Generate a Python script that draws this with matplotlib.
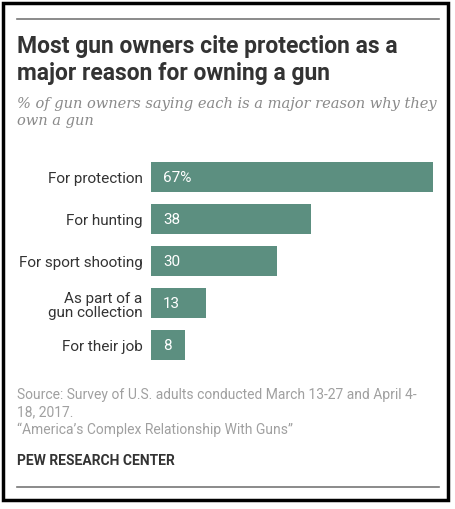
import matplotlib
matplotlib.use("Agg")
import matplotlib.pyplot as plt
from matplotlib.lines import Line2D
from matplotlib.patches import Rectangle

# 数据
categories = ["For protection", "For hunting", "For sport shooting",
              "As part of a\ngun collection", "For their job"]
values = [67, 38, 30, 13, 8]
value_labels = ["67%", "38", "30", "13", "8"]

W, H = 455, 510
BAR_COLOR = "#5c8f80"

plt.rcParams["font.family"] = ["Roboto", "DejaVu Sans"]

fig = plt.figure(figsize=(W / 100, H / 100), dpi=100)


def fx(px):
    return px / W


def fy(py):
    return 1 - py / H


# 外框和上下横线
fig.patches.append(Rectangle((fx(3), fy(501)), fx(448) - fx(3), fy(4) - fy(501),
                             transform=fig.transFigure, fill=False,
                             edgecolor="black", linewidth=2.5))
fig.lines.append(Line2D([fx(17), fx(439)], [fy(20), fy(20)],
                        transform=fig.transFigure, color="#777777", lw=1.2))
fig.lines.append(Line2D([fx(17), fx(439)], [fy(488), fy(488)],
                        transform=fig.transFigure, color="#777777", lw=1.2))

# 标题
fig.text(fx(17), fy(35), "Most gun owners cite protection as a\nmajor reason for owning a gun",
         ha="left", va="top", fontsize=16.5, fontweight="bold", color="#333333",
         linespacing=1.2)
fig.text(fx(17), fy(97), "% of gun owners saying each is a major reason why they\nown a gun",
         ha="left", va="top", fontsize=10.5, style="italic", color="#8a8a8a",
         family=["DejaVu Serif"], linespacing=1.3)

# 条形图
ax = fig.add_axes([fx(151), fy(367), fx(433) - fx(151), (367 - 157) / H])
ypos = list(range(len(categories)))
ax.barh(ypos, values, height=30 / 42, color=BAR_COLOR)
ax.set_xlim(0, 67)
ax.set_ylim(len(categories) - 0.5, -0.5)
ax.set_yticks(ypos)
ax.set_yticklabels(categories, fontsize=11, color="#333333", ha="right",
                   linespacing=1.05)
ax.tick_params(axis="y", length=0, pad=6)
ax.set_xticks([])
for s in ax.spines.values():
    s.set_visible(False)
for y, lab in zip(ypos, value_labels):
    ax.text(2.9, y, lab, ha="left", va="center", color="white", fontsize=11)

# 来源
fig.text(fx(17), fy(388), "Source: Survey of U.S. adults conducted March 13-27 and April 4-\n18, 2017.\n\u201cAmerica\u2019s Complex Relationship With Guns\u201d",
         ha="left", va="top", fontsize=10, color="#a0a0a0", linespacing=1.3)
fig.text(fx(17), fy(454), "PEW RESEARCH CENTER", ha="left", va="top",
         fontsize=10, fontweight="bold", color="#333333")

fig.savefig("out.png", dpi=100)
